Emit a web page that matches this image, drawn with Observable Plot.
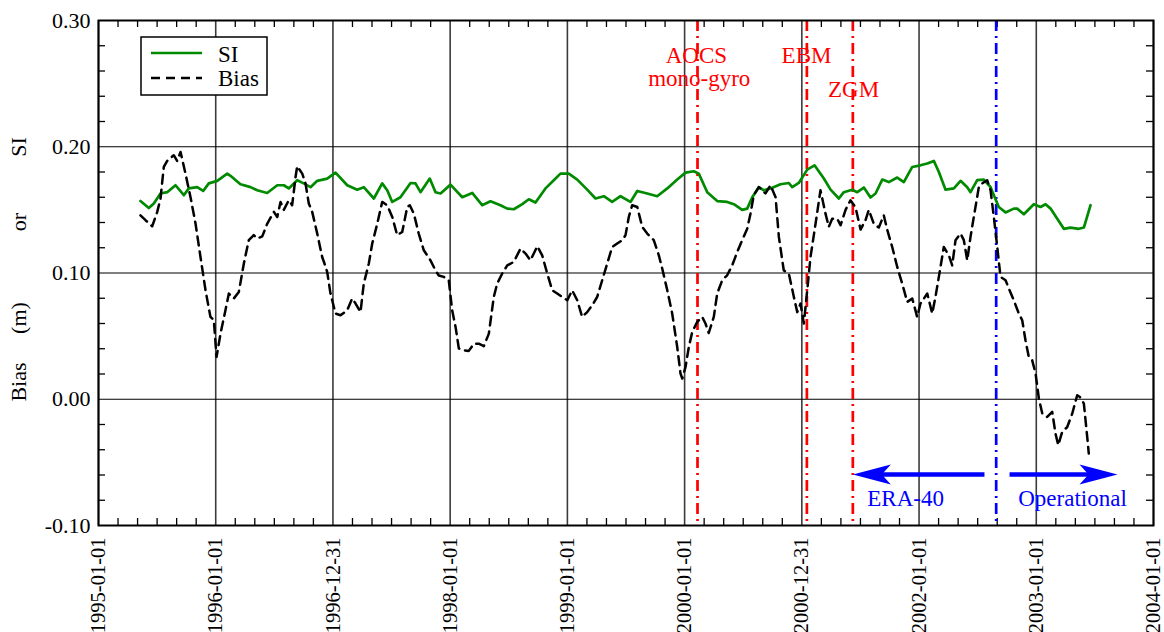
<!DOCTYPE html>
<html><head><meta charset="utf-8">
<script src="https://cdn.jsdelivr.net/npm/d3@7"></script>
<script src="https://cdn.jsdelivr.net/npm/@observablehq/plot@0.6"></script>
<style>body{margin:0;background:#fff}svg{display:block}</style>
</head><body><div id="chart"></div>
<script>
// ---- data (time in decimal years) ----
const siTime = [1995.358,1995.429,1995.472,1995.529,1995.586,1995.657,1995.728,1995.770,1995.842,1995.893,1995.941,
1996.013,1996.098,1996.126,1996.211,1996.297,1996.354,1996.439,1996.525,1996.581,1996.623,1996.695,1996.751,1996.809,1996.866,1996.951,
1997.022,1997.122,1997.207,1997.263,1997.349,1997.420,1997.463,1997.506,1997.576,1997.662,1997.704,1997.747,1997.826,1997.875,1997.918,
1998.003,1998.103,1998.188,1998.273,1998.344,1998.429,1998.487,1998.543,1998.615,1998.671,1998.728,1998.813,1998.884,1998.941,
1999.012,1999.084,1999.169,1999.240,1999.311,1999.382,1999.453,1999.538,1999.596,1999.681,1999.766,1999.852,1999.937,
2000.008,2000.078,2000.121,2000.193,2000.278,2000.363,2000.420,2000.491,2000.534,2000.577,2000.633,2000.676,2000.733,2000.818,2000.889,2000.918,2000.974,
2001.046,2001.108,2001.188,2001.245,2001.316,2001.358,2001.430,2001.473,2001.529,2001.586,2001.629,2001.686,2001.742,2001.814,2001.870,2001.942,
2002.012,2002.070,2002.126,2002.169,2002.226,2002.297,2002.354,2002.411,2002.439,2002.496,2002.553,2002.610,2002.680,2002.738,2002.808,2002.837,2002.894,2002.979,
2003.036,2003.079,2003.122,2003.179,2003.235,2003.292,2003.363,2003.406,2003.463];
const siValue = [0.157,0.1515,0.155,0.163,0.164,0.1695,0.1616,0.167,0.168,0.165,0.171,
0.173,0.1787,0.177,0.1703,0.168,0.1655,0.1634,0.1695,0.1695,0.167,0.1735,0.171,0.168,0.173,0.1748,
0.1795,0.1695,0.166,0.168,0.159,0.171,0.1655,0.1563,0.160,0.1713,0.171,0.164,0.1748,0.164,0.163,
0.170,0.160,0.1634,0.1537,0.1568,0.1537,0.151,0.1505,0.1545,0.1584,0.1558,0.167,0.1735,0.1787,
0.1787,0.174,0.166,0.159,0.1608,0.1563,0.1608,0.1563,0.165,0.163,0.1608,0.167,0.174,
0.1795,0.1806,0.1787,0.164,0.157,0.1563,0.1545,0.150,0.151,0.160,0.168,0.1655,0.167,0.1703,0.1713,0.168,0.1713,
0.1819,0.1853,0.1748,0.166,0.159,0.164,0.166,0.164,0.1677,0.1598,0.163,0.174,0.172,0.1756,0.172,0.184,
0.1853,0.1867,0.1888,0.180,0.166,0.167,0.173,0.168,0.164,0.1735,0.174,0.168,0.1523,0.148,0.151,0.151,0.1465,0.1545,
0.1523,0.1545,0.151,0.143,0.135,0.136,0.135,0.136,0.1537];

const biasTime = [1995.358,1995.401,1995.458,1995.501,1995.529,1995.557,1995.586,1995.642,1995.671,1995.700,1995.742,1995.785,1995.828,1995.870,1995.913,1995.955,1995.984,
1996.007,1996.041,1996.083,1996.112,1996.154,1996.197,1996.240,1996.282,1996.325,1996.354,1996.397,1996.439,1996.496,1996.525,1996.553,1996.581,1996.623,1996.652,1996.681,1996.695,1996.738,1996.766,1996.794,1996.823,1996.866,1996.908,1996.928,1996.951,1996.979,
1997.022,1997.065,1997.122,1997.164,1997.193,1997.235,1997.263,1997.306,1997.335,1997.378,1997.420,1997.463,1997.506,1997.548,1997.591,1997.634,1997.656,1997.690,1997.732,1997.775,1997.832,1997.875,1997.903,1997.946,1997.988,
1998.017,1998.046,1998.074,1998.116,1998.159,1998.202,1998.244,1998.287,1998.330,1998.372,1998.401,1998.444,1998.487,1998.543,1998.600,1998.643,1998.685,1998.743,1998.785,1998.828,1998.871,1998.913,1998.956,1998.999,
1999.041,1999.084,1999.126,1999.169,1999.212,1999.254,1999.297,1999.340,1999.382,1999.425,1999.468,1999.496,1999.524,1999.553,1999.596,1999.638,1999.681,1999.737,1999.780,1999.809,1999.852,1999.894,1999.937,1999.965,1999.980,
2000.008,2000.036,2000.065,2000.107,2000.150,2000.178,2000.206,2000.249,2000.278,2000.321,2000.363,2000.406,2000.449,2000.491,2000.534,2000.562,2000.590,2000.633,2000.690,2000.733,2000.776,2000.804,2000.846,2000.889,2000.932,2000.961,2000.989,
2001.017,2001.046,2001.074,2001.117,2001.159,2001.202,2001.230,2001.259,2001.302,2001.330,2001.373,2001.415,2001.458,2001.501,2001.543,2001.571,2001.614,2001.657,2001.699,2001.728,2001.771,2001.814,2001.856,2001.899,2001.942,2001.984,
2002.012,2002.070,2002.112,2002.140,2002.183,2002.211,2002.254,2002.283,2002.311,2002.354,2002.382,2002.411,2002.439,2002.467,2002.510,2002.539,2002.581,2002.610,2002.638,2002.667,2002.695,2002.738,2002.766,2002.808,2002.851,2002.880,2002.908,2002.936,2002.965,2002.994,
2003.022,2003.051,2003.093,2003.136,2003.164,2003.187,2003.221,2003.264,2003.307,2003.349,2003.372,2003.406,2003.429,2003.448];
const biasValue = [0.1457,0.1418,0.137,0.1484,0.159,0.184,0.1888,0.1933,0.1888,0.1959,0.1787,0.160,0.139,0.1127,0.0863,0.0652,0.0626,
0.0335,0.052,0.0705,0.0837,0.0798,0.085,0.1075,0.126,0.130,0.1273,0.129,0.139,0.1484,0.1444,0.1563,0.150,0.1576,0.1537,0.176,0.1846,0.1787,0.171,0.155,0.1484,0.1312,0.1127,0.1075,0.1008,0.0837,
0.0679,0.0665,0.0705,0.0798,0.0758,0.069,0.0916,0.1075,0.1233,0.139,0.1563,0.1537,0.1444,0.130,0.1325,0.1523,0.1537,0.147,0.1312,0.118,0.110,0.102,0.098,0.0969,0.0943,
0.0705,0.0573,0.0402,0.0388,0.0383,0.044,0.044,0.042,0.052,0.081,0.0916,0.0996,0.106,0.1088,0.1194,0.1154,0.110,0.1212,0.114,0.0996,0.0863,0.0837,0.081,0.0784,
0.0863,0.0784,0.0652,0.069,0.0745,0.081,0.0943,0.1075,0.1206,0.1233,0.126,0.130,0.1444,0.1537,0.1523,0.1365,0.1312,0.126,0.114,0.1035,0.0863,0.0679,0.0414,0.0204,0.0164,
0.0256,0.0414,0.0533,0.0612,0.0652,0.060,0.0525,0.0652,0.0837,0.0943,0.0982,0.106,0.1167,0.126,0.135,0.147,0.1616,0.168,0.163,0.1695,0.160,0.1286,0.102,0.0996,0.081,0.069,0.0758,
0.060,0.0863,0.1127,0.139,0.1655,0.147,0.1365,0.143,0.143,0.1378,0.150,0.1576,0.152,0.1344,0.1418,0.150,0.139,0.136,0.1457,0.1344,0.1206,0.1048,0.0916,0.0771,0.0798,0.0652,
0.0758,0.0837,0.0679,0.081,0.1048,0.1206,0.114,0.106,0.126,0.1312,0.126,0.110,0.1286,0.1444,0.168,0.171,0.1735,0.1655,0.1444,0.1206,0.0969,0.0943,0.0877,0.0784,0.0679,0.0626,0.0467,0.0335,0.0309,0.0204,
0.0006,-0.0113,-0.014,-0.010,-0.0272,-0.0364,-0.0259,-0.022,-0.0113,0.0032,0.0018,-0.0034,-0.0246,-0.043];

const xTicks = [1995,1996,1997,1998,1999,2000,2001,2002,2003,2004];
const xTickLabels = ["1995-01-01","1996-01-01","1996-12-31","1998-01-01","1999-01-01","2000-01-01","2000-12-31","2002-01-01","2003-01-01","2004-01-01"];
const yTicks = [-0.10,0.00,0.10,0.20,0.30];
const yTickLabels = ["-0.10","0.00","0.10","0.20","0.30"];

const eventTime = [2000.110,2001.043,2001.435,2002.658];
const eventColor = ["red","red","red","blue"];

const labelText = ["AOCS","mono-gyro","EBM","ZGM","ERA-40","Operational"];
const labelTime = [2000.100,2000.125,2001.040,2001.441,2001.885,2003.309];
const labelValue = [0.2723,0.2536,0.2723,0.2451,-0.0789,-0.0789];
const labelColor = ["red","red","red","red","blue","blue"];

const arrowFrom = [2002.558,2002.772];
const arrowTo = [2001.435,2003.693];
const arrowValue = [-0.0596,-0.0596];

const legendLabels = ["SI","Bias"];
const yTitleParts = ["SI","or","(m)","Bias"];

// ---- build ----
const si = siTime.map((t,i)=>({t, v: siValue[i]}));
const bias = biasTime.map((t,i)=>({t, v: biasValue[i]}));
const events = eventTime.map((t,i)=>({t, c: eventColor[i]}));
const labels = labelText.map((s,i)=>({s, t: labelTime[i], v: labelValue[i], c: labelColor[i]}));

const W=1164, H=632, mL=98, mR=11, mT=20, mB=107;
const xDomain=[1995,2004], yDomain=[-0.10,0.30];
const pxX = (W-mL-mR)/(xDomain[1]-xDomain[0]);
const pxY = (H-mT-mB)/(yDomain[1]-yDomain[0]);
const tlX = 7/pxX, tlY = 7/pxY;

const arrows = arrowFrom.map((f,i)=>{
  const dir = Math.sign(arrowTo[i]-f);
  return {from:f, to:arrowTo[i], shaftEnd: arrowTo[i]-dir*28/pxX, v: arrowValue[i], rot: dir<0?180:0};
});

const minorX = [];
for (let k=0;k<xTicks.length-1;k++) for (let j=1;j<6;j++) minorX.push(xTicks[k]+(xTicks[k+1]-xTicks[k])*j/6);
const minorY = d3.range(0,21).map(i=>yDomain[0]+i*0.02).filter(v=>!yTicks.some(t=>Math.abs(t-v)<1e-6));

const arrowHead = {draw(ctx){ctx.moveTo(0,0);ctx.lineTo(-38,-10);ctx.lineTo(-29,0);ctx.lineTo(-38,10);ctx.closePath();}};

const font = "'Liberation Serif','Times New Roman',serif";

const plot = Plot.plot({
  width: W, height: H,
  marginLeft: mL, marginRight: mR, marginTop: mT, marginBottom: mB,
  style: {fontFamily: font, fontSize: "22px", color: "#000", background: "#fff"},
  x: {domain: xDomain, ticks: xTicks, tickFormat: d => xTickLabels[xTicks.indexOf(d)], tickRotate: -90, tickSize: 0, tickPadding: 12, label: null},
  y: {domain: yDomain, ticks: yTicks, tickFormat: d => yTickLabels[yTicks.findIndex(t=>Math.abs(t-d)<1e-9)], tickSize: 0, tickPadding: 8, label: null},
  marks: [
    Plot.ruleX(xTicks, {stroke: "#3c3c3c", strokeWidth: 1.6}),
    Plot.ruleY(yTicks, {stroke: "#000", strokeWidth: 1.2}),
    Plot.ruleX(minorX, {y1: yDomain[1], y2: yDomain[1]-tlY, stroke:"#000", strokeWidth:1.3}),
    Plot.ruleX(minorX, {y1: yDomain[0], y2: yDomain[0]+tlY, stroke:"#000", strokeWidth:1.3}),
    Plot.ruleY(minorY, {x1: xDomain[0], x2: xDomain[0]+tlX, stroke:"#000", strokeWidth:1.3}),
    Plot.ruleY(minorY, {x1: xDomain[1], x2: xDomain[1]-tlX, stroke:"#000", strokeWidth:1.3}),
    Plot.ruleX(events.filter(e=>e.c==="red"), {x:"t", stroke:"#ff0000", strokeWidth:2.7, strokeDasharray:"11,5,2,5"}),
    Plot.ruleX(events.filter(e=>e.c==="blue"), {x:"t", stroke:"#0000ff", strokeWidth:2.7, strokeDasharray:"11,5,2,5"}),
    Plot.line(si, {x:"t", y:"v", stroke:"#008a00", strokeWidth:2.7}),
    Plot.line(bias, {x:"t", y:"v", stroke:"#000", strokeWidth:2.5, strokeDasharray:"9,6"}),
    Plot.link(arrows, {x1:"from", x2:"shaftEnd", y1:"v", y2:"v", stroke:"#0000ff", strokeWidth:4.5}),
    Plot.dot(arrows, {x:"to", y:"v", symbol: arrowHead, rotate:"rot", r:5, fill:"#0000ff", stroke:"none"}),
    Plot.text(labels, {x:"t", y:"v", text:"s", fill: d => d.c === "red" ? "#ff0000" : "#0000ff", fontSize: 23, fontFamily: font}),
    Plot.frame({stroke:"#000", strokeWidth:2})
  ]
});

const svg = d3.select(plot);
svg.selectAll("g[aria-label='x-axis tick label']").style("font-size","20.5px");

// legend
const lg = svg.append("g").attr("font-family", font).attr("font-size", 23).attr("text-anchor","start");
lg.append("rect").attr("x",141).attr("y",37).attr("width",126).attr("height",58).attr("fill","#fff").attr("stroke","#000").attr("stroke-width",1.5);
lg.append("line").attr("x1",151).attr("x2",202).attr("y1",53).attr("y2",53).attr("stroke","#008a00").attr("stroke-width",2.7);
lg.append("line").attr("x1",151).attr("x2",202).attr("y1",78).attr("y2",78).attr("stroke","#000").attr("stroke-width",2.5).attr("stroke-dasharray","9,6");
lg.append("text").attr("x",218).attr("y",61.5).attr("text-anchor","start").text(legendLabels[0]);
lg.append("text").attr("x",218).attr("y",86).attr("text-anchor","start").text(legendLabels[1]);

// y title
const yPos = [147, 222, 318, 382];
const yt = svg.append("g").attr("font-family", font).attr("font-size", 22).attr("text-anchor","middle");
yTitleParts.forEach((s,i)=>{
  yt.append("text").attr("transform",`translate(26,${yPos[i]}) rotate(-90)`).text(s);
});

document.getElementById("chart").appendChild(plot);
</script>
</body></html>
